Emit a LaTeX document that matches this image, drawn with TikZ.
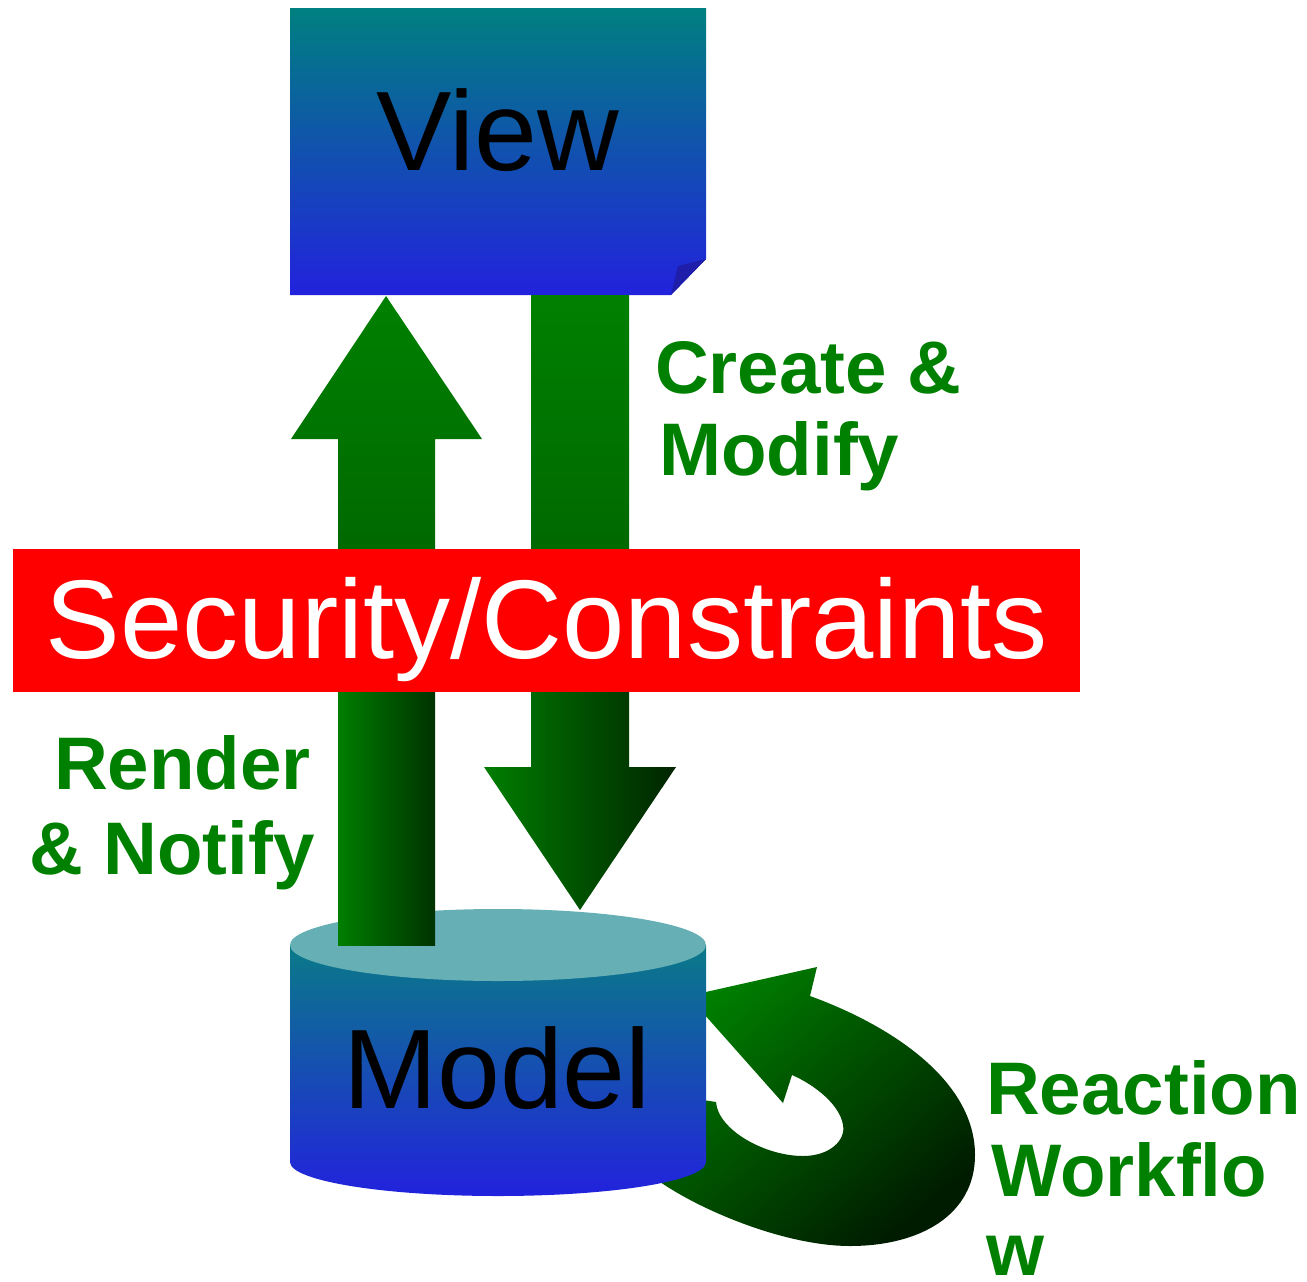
\documentclass[tikz,border=0pt]{standalone}
\usepackage{fontspec}
\setmainfont{Liberation Sans}
\definecolor{viewtop}{RGB}{0,128,128}
\definecolor{viewbot}{RGB}{34,34,221}
\definecolor{cyltop}{RGB}{102,176,181}
\definecolor{cylside}{RGB}{10,122,136}
\definecolor{foldblue}{RGB}{30,30,170}
\definecolor{labelgreen}{RGB}{0,128,0}
\definecolor{arrowlight}{RGB}{0,126,0}
\definecolor{arrowmid}{RGB}{0,104,0}
\definecolor{arrowdark}{RGB}{0,50,0}
\definecolor{arrowdeep}{RGB}{0,36,0}
\definecolor{loopmid}{RGB}{0,96,0}
\definecolor{loopdark}{RGB}{0,28,0}
\definecolor{barred}{RGB}{255,0,0}
\begin{document}
\begin{tikzpicture}[x=1pt,y=-1pt,
  bigtext/.style={inner sep=0pt,anchor=base,font=\fontsize{113}{113}\selectfont},
  labeltext/.style={inner sep=0pt,text=labelgreen,font=\fontsize{74.5}{83}\selectfont\bfseries}]
\useasboundingbox (0,0) rectangle (1307,1282);

% reaction workflow loop, partly hidden behind the model
\shade[top color=labelgreen, middle color=loopmid, bottom color=loopdark, shading angle=40]
  (688,996) -- (817,967) -- (810,996)
  .. controls (890,1025) and (975,1080) .. (975,1155)
  .. controls (975,1215) and (920,1246) .. (850,1246)
  .. controls (790,1246) and (710,1215) .. (663,1184)
  -- (640,1168) -- (690,1098) -- (716,1102)
  .. controls (718,1130) and (765,1156) .. (803,1156)
  .. controls (830,1156) and (846,1140) .. (843,1125)
  .. controls (840,1105) and (815,1085) .. (792,1075)
  -- (783,1103) -- cycle;

% model cylinder
\shade[top color=cylside, bottom color=viewbot]
  (290,945) -- (290,1162) arc[start angle=180, end angle=0, x radius=208, y radius=34]
  -- (706,945) -- cycle;
\fill[cyltop] (498,945) ellipse[x radius=208, y radius=36];

% view sheet with folded corner
\shade[top color=viewtop, bottom color=viewbot]
  (290,8) -- (706,8) -- (706,259) -- (671,295) -- (290,295) -- cycle;
\fill[foldblue] (706,259) -- (678,266) -- (671,295) -- cycle;

% render & notify arrow (up)
\shade[top color=labelgreen, bottom color=arrowmid]
  (338,560) -- (338,439) -- (291,439) -- (386,296) -- (482,439) -- (435,439) -- (435,560) -- cycle;
\shade[left color=arrowlight, right color=arrowdark] (338,680) rectangle (435,945);

% create & modify arrow (down)
\shade[top color=labelgreen, bottom color=arrowmid] (531,295) rectangle (629,560);
\shade[left color=arrowlight, right color=arrowdeep]
  (531,680) -- (629,680) -- (629,767) -- (676,767) -- (580,910) -- (484,767) -- (531,767) -- cycle;

% security band
\fill[barred] (13,549) rectangle (1080,692);

% texts
\node[bigtext] (view) at (498,170) {View};
\node[bigtext] (model) at (497,1108) {Model};
\node[bigtext, text=white, font=\fontsize{112}{112}\selectfont] (security) at (547,658) {Security/Constraints};

\node[labeltext, anchor=base west] (create1) at (655,393) {Create \&};
\node[labeltext, anchor=base west] (create2) at (659,475) {Modify};
\node[labeltext, anchor=base east] (render1) at (311,789) {Render};
\node[labeltext, anchor=base east] (render2) at (315,874) {\& Notify};
\node[labeltext, anchor=base west] (reaction1) at (986,1114) {Reaction};
\node[labeltext, anchor=base west] (reaction2) at (991,1196) {Workflo};
\node[labeltext, anchor=base west] (reaction3) at (986,1275) {w};
\end{tikzpicture}
\end{document}
